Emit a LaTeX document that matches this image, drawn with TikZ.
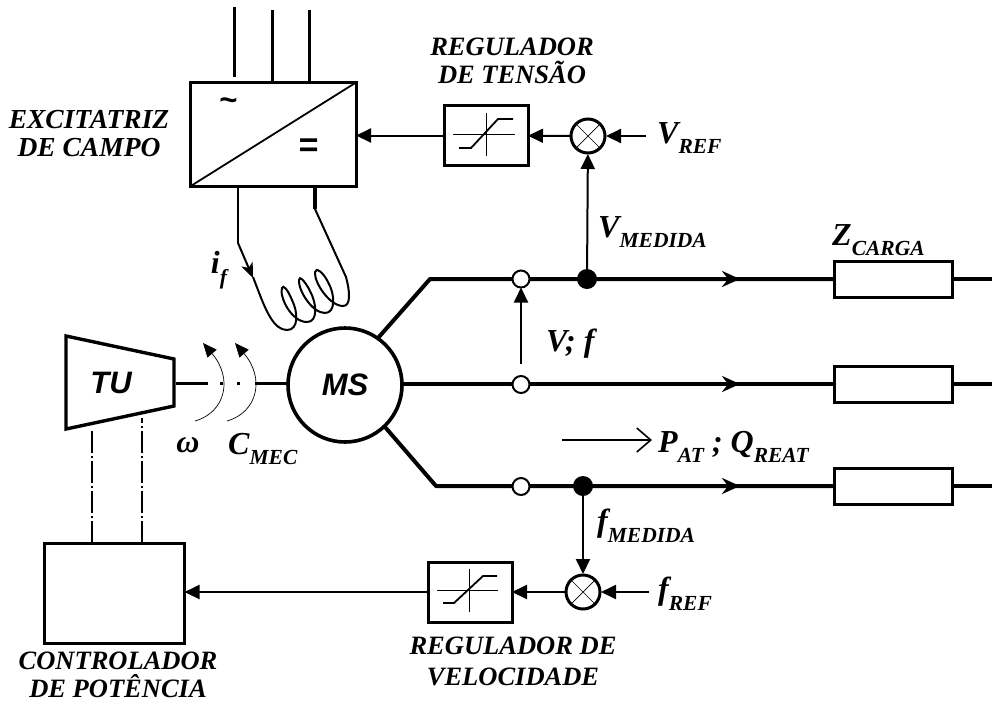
\documentclass[tikz,border=0pt]{standalone}
\usepackage{fontspec}
\setmainfont{Liberation Serif}
\setsansfont{Liberation Sans}
\usetikzlibrary{arrows.meta}
\usetikzlibrary{positioning}

\newcommand{\idx}[1]{\raisebox{-.33em}{\fontsize{21.5}{21.5}\selectfont #1}}

\tikzset{
  txt/.style={font=\fontsize{26.5}{28}\selectfont\bfseries\itshape,align=center,inner sep=0pt},
  bigtxt/.style={font=\fontsize{32}{32}\selectfont\bfseries\itshape,inner sep=0pt},
  sanstxt/.style={font=\fontsize{31}{32}\selectfont\sffamily\bfseries\itshape,inner sep=0pt},
  box/.style={rectangle,draw,line width=3pt,inner sep=0pt,outer sep=0pt},
  sum/.style={circle,draw,line width=3pt,minimum size=34pt,inner sep=0pt,outer sep=1pt,
    path picture={\draw[line width=.7pt] (path picture bounding box.north west) -- (path picture bounding box.south east)
      (path picture bounding box.north east) -- (path picture bounding box.south west);}},
  opendot/.style={circle,draw,fill=white,line width=2pt,minimum size=17pt,inner sep=0pt,outer sep=0pt},
  fulldot/.style={circle,fill=black,minimum size=20pt,inner sep=0pt,outer sep=0pt},
  feed/.style={line width=2pt,-{Triangle[length=15pt,width=14pt]}},
  bus/.style={line width=4pt},
  flow/.style={line width=4pt,-{Stealth[length=18pt,width=16pt,inset=6pt]}}
}

\begin{document}
\begin{tikzpicture}[x=1pt,y=-1pt]
  \useasboundingbox (0,0) rectangle (992,702);

  % excitatriz e regulador de tensao
  \node[box,minimum width=166pt,minimum height=104pt] (exc) at (273,134.5) {};
  \draw[line width=1.8pt] (exc.south west) -- (exc.north east);
  \node[sanstxt] (acs) at (228,104) {\textasciitilde};
  \node[sanstxt,font=\fontsize{34}{34}\selectfont\sffamily\bfseries\itshape] (dcs) at (308,148) {=};
  \node[txt,font=\fontsize{27.5}{28}\selectfont\bfseries\itshape] (lexc) at (89,134) {EXCITATRIZ\\DE CAMPO};
  \coordinate (ph1) at (234,7);
  \coordinate (ph1b) at (234,77);
  \coordinate (ph2) at (272,10);
  \coordinate (ph3) at (309,10);
  \draw[line width=3pt] (ph1) -- (ph1b);
  \draw[line width=3pt] (ph2) -- (ph2 |- exc.north);
  \draw[line width=3pt] (ph3) -- (ph3 |- exc.north);

  \node[box,minimum width=84pt,minimum height=60pt] (regv) at (486,135.5) {};
  \node[txt] (lregv) at (512,61) {REGULADOR\\DE TENS\~AO};
  \draw[line width=.9pt] (453,134) -- (515,134) (486,113) -- (486,156);
  \draw[line width=1.8pt] (459,148) -- (471,148) -- (498,119) -- (513,119);
  \node[sum] (sumv) at (588,136) {};
  \coordinate (vref) at (646,136);
  \node[bigtxt,anchor=west] (lvref) at (657,138) {V\idx{REF}};

  % excitacao
  \coordinate (fa) at (238,243);
  \coordinate (fb) at (315,209);
  \draw[line width=2pt] (exc.south -| fa) -- (fa);
  \draw[line width=3.4pt] (exc.south -| fb) -- (fb);
  \draw[line width=2pt,-{Stealth[length=15pt,width=12pt,inset=4pt]}] (fa) -- (253,278);
  \draw[line width=2pt] (253,277) -- (258,290)
    .. controls (266,311) and (274,330) .. (287,330)
    .. controls (299,330) and (298,312) .. (292,300)
    .. controls (288,290) and (283,284) .. (282,288)
    .. controls (279,296) and (291,322) .. (307,322)
    .. controls (318,322) and (317,304) .. (310,291)
    .. controls (305,281) and (299,275) .. (299,280)
    .. controls (298,290) and (312,313) .. (325,313)
    .. controls (336,313) and (335,294) .. (328,282)
    .. controls (323,272) and (316,267) .. (315,272)
    .. controls (314,283) and (330,306) .. (343,306)
    .. controls (351,306) and (350,292) .. (346,277)
    -- (fb);
  \node[bigtxt] (lif) at (219,270) {i\idx{f}};

  % turbina e maquina
  \coordinate (tua) at (66,336);
  \coordinate (tub) at (174,359);
  \coordinate (tuc) at (174,406);
  \coordinate (tud) at (66,429);
  \draw[line width=3.4pt,line join=miter] (tua) -- (tub) -- (tuc) -- (tud) -- cycle;
  \node[sanstxt] (tu) at (111,383) {TU};
  \node[circle,draw,line width=3.6pt,minimum size=114pt,inner sep=0pt,outer sep=1pt] (ms) at (345,385) {};
  \node[sanstxt] (lms) at (345,385) {MS};
  \coordinate (shaft) at (176,383);
  \draw[line width=3pt,dash pattern=on 32pt off 12pt on 3pt off 14pt on 3pt off 15pt on 40pt] (shaft) -- (ms.west |- shaft);
  \coordinate (wa) at (195,421);
  \coordinate (wb) at (203,343);
  \coordinate (ca) at (227,421);
  \coordinate (cb) at (235,343);
  \draw[line width=.7pt,-{Triangle[length=14pt,width=12pt]}] (wa) .. controls (226,412) and (233,378) .. (wb);
  \draw[line width=.7pt,-{Triangle[length=14pt,width=12pt]}] (ca) .. controls (258,412) and (265,378) .. (cb);
  \node[bigtxt] (lw) at (188,445) {ω};
  \node[bigtxt,anchor=west] (lc) at (228,449) {C\idx{MEC}};

  % controlador
  \node[box,minimum width=140pt,minimum height=100pt] (ctrl) at (114.5,593) {};
  \coordinate (tul) at (92,431);
  \coordinate (tur) at (142,418);
  \draw[line width=1.6pt,dash pattern=on 22pt off 3pt on 2pt off 3pt] (ctrl.north -| tul) -- (tul);
  \draw[line width=1.6pt,dash pattern=on 22pt off 3pt on 2pt off 3pt] (ctrl.north -| tur) -- (tur);
  \node[txt] (lctrl) at (118,675) {CONTROLADOR\\DE POT\^ENCIA};

  % barras
  \coordinate (za) at (430,279);
  \coordinate (zb) at (436,486);
  \coordinate (ra) at (740,279);
  \coordinate (rb) at (740,384);
  \coordinate (rc) at (740,486);
  \node[box,minimum width=118pt,minimum height=36pt] (za1) at (893.5,279) {};
  \node[box,minimum width=118pt,minimum height=36pt] (za2) at (893.5,384.5) {};
  \node[box,minimum width=118pt,minimum height=36pt] (za3) at (893.5,486.5) {};
  \coordinate (ea) at (992,279);
  \coordinate (eb) at (992,384);
  \coordinate (ec) at (992,486);
  \coordinate (msa) at (378,338);
  \coordinate (msc) at (385,427);
  \draw[bus,line join=round] (msa) -- (za) -- (za1.west |- za);
  \draw[bus] (ms.east |- rb) -- (za2.west |- rb);
  \draw[bus,line join=round] (msc) -- (zb) -- (za3.west |- zb);
  \draw[bus] (za1.east |- ea) -- (ea);
  \draw[bus] (za2.east |- eb) -- (eb);
  \draw[bus] (za3.east |- ec) -- (ec);
  \path[flow]
    (720,279) edge (ra)
    (720,384) edge (rb)
    (720,486) edge (rc);
  \node[bigtxt,anchor=west] (lz) at (832,240) {Z\idx{CARGA}};

  \node[opendot] (oa) at (521,279) {};
  \node[opendot] (ob) at (521,384.5) {};
  \node[opendot] (oc) at (521,486.5) {};
  \node[fulldot] (fva) at (587,279) {};
  \node[fulldot] (ffa) at (583,486) {};
  \node[bigtxt,anchor=west] (lvm) at (598,232) {V\idx{MEDIDA}};
  \node[bigtxt,anchor=west] (lvf) at (546,344) {V; f};
  \coordinate (vfb) at (521,364);
  \draw[feed] (vfb) -- (oa);

  \coordinate (pa) at (562,440);
  \coordinate (pb) at (652,440);
  \draw[line width=1.6pt,-{Straight Barb[length=14pt,width=24pt]}] (pa) -- (pb);
  \node[bigtxt,anchor=west] (lp) at (658,447) {P\idx{AT} ; Q\idx{REAT}};

  % regulador de velocidade
  \node[box,minimum width=84pt,minimum height=60pt] (regf) at (470,592) {};
  \node[txt,font=\fontsize{26.5}{31}\selectfont\bfseries\itshape] (lregf) at (513,661) {REGULADOR DE\\VELOCIDADE};
  \draw[line width=.9pt] (437,590) -- (498,590) (469,569) -- (469,612);
  \draw[line width=1.8pt] (443,603) -- (454,603) -- (483,576) -- (497,576);
  \node[sum] (sumf) at (583,592) {};
  \coordinate (fref) at (649,592);
  \node[bigtxt,anchor=west] (lfref) at (658,594) {f\idx{REF}};
  \node[bigtxt,anchor=west] (lfm) at (597,526) {f\idx{MEDIDA}};

  \path[feed]
    (sumv) edge (regv)
    (vref) edge (sumv)
    (fva)  edge (sumv)
    (regv) edge (regv -| exc.east)
    (ffa)  edge (sumf)
    (fref) edge (sumf)
    (sumf) edge (regf)
    (regf) edge (regf -| ctrl.east);
\end{tikzpicture}
\end{document}
